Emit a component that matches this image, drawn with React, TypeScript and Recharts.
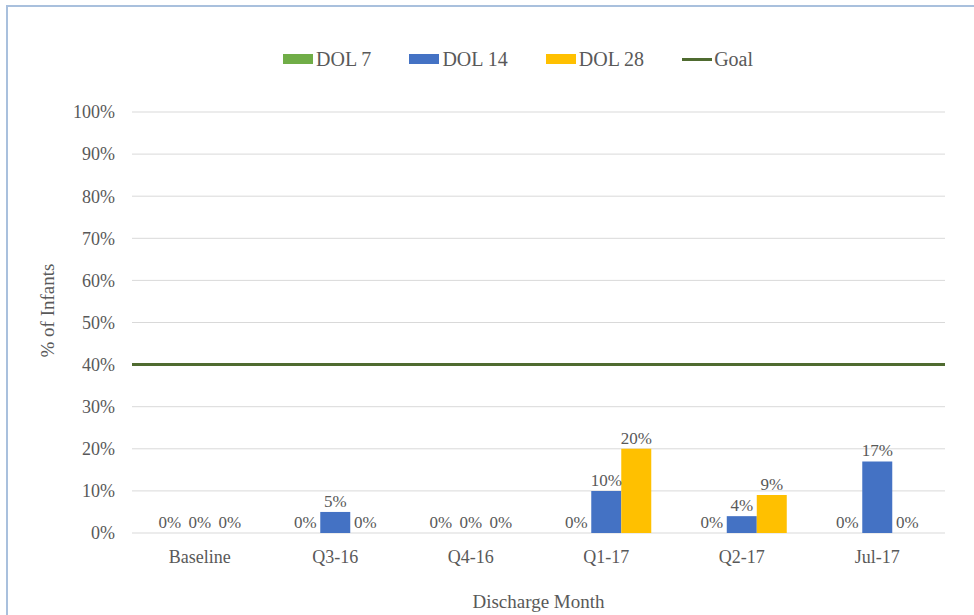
import React from 'react';
import { ComposedChart, Bar, XAxis, YAxis, CartesianGrid, ReferenceLine, LabelList, Rectangle } from 'recharts';

const categories = ['Baseline', 'Q3-16', 'Q4-16', 'Q1-17', 'Q2-17', 'Jul-17'];
const dol7 = [0, 0, 0, 0, 0, 0];
const dol14 = [0, 5, 0, 10, 4, 17];
const dol28 = [0, 0, 0, 20, 9, 0];
const goal = 40;
const yTicks = [0, 10, 20, 30, 40, 50, 60, 70, 80, 90, 100];

const data = categories.map((c, i) => ({ name: c, dol7: dol7[i], dol14: dol14[i], dol28: dol28[i] }));

const FONT = '"Liberation Serif", "DejaVu Serif", serif';
const TXT = '#595959';

const legendItems = [
  { label: 'DOL 7', color: '#70ad47', type: 'rect' },
  { label: 'DOL 14', color: '#4472c4', type: 'rect' },
  { label: 'DOL 28', color: '#ffc000', type: 'rect' },
  { label: 'Goal', color: '#4f6b30', type: 'line' },
];

const BarShape = (props: any) => {
  const { value, height } = props;
  const v = Array.isArray(value) ? value[1] - value[0] : value;
  if (!v || Math.abs(height) < 1) return <g />;
  return <Rectangle {...props} />;
};

export default function App() {
  const fmt = (v: any) => `${v}%`;
  const labelProps = { position: 'top' as const, offset: 5, formatter: fmt, fill: TXT, fontSize: 17, fontFamily: FONT };
  return (
    <div style={{ position: 'absolute', left: 0, top: 0, width: 974, height: 615, background: '#fff', overflow: 'hidden', fontFamily: FONT }}>
      <div style={{ position: 'absolute', left: 6, top: 5, width: 1000, height: 700, borderLeft: '2px solid #a9c0dd', borderTop: '2px solid #a9c0dd' }} />
      <div style={{ position: 'absolute', left: 283, top: 47, display: 'flex', alignItems: 'center', gap: 38, fontSize: 20, color: TXT, fontFamily: FONT }}>
        {legendItems.map((it) => (
          <div key={it.label} style={{ display: 'flex', alignItems: 'center' }}>
            {it.type === 'rect' ? (
              <div style={{ width: 30, height: 10, background: it.color, marginRight: 3 }} />
            ) : (
              <div style={{ width: 30, height: 3, background: it.color, marginRight: 2 }} />
            )}
            <span style={{ fontFamily: FONT, lineHeight: '24px' }}>{it.label}</span>
          </div>
        ))}
      </div>
      <div style={{ position: 'absolute', left: 0, top: 0 }}>
        <ComposedChart width={974} height={615} data={data} margin={{ top: 112, right: 29, bottom: 7, left: 30 }} barGap={0} barCategoryGap="16.8%">
          <CartesianGrid vertical={false} stroke="#d9d9d9" />
          <XAxis dataKey="name" axisLine={false} tickLine={false} tickMargin={11} height={75}
            tick={{ fill: TXT, fontSize: 18, fontFamily: FONT }}
            label={{ value: 'Discharge Month', position: 'insideBottom', offset: 0, fill: TXT, fontSize: 19, fontFamily: FONT, style: { fontFamily: FONT } }} />
          <YAxis domain={[0, 100]} ticks={yTicks} tickFormatter={fmt} axisLine={false} tickLine={false} tickMargin={11} width={102}
            tick={{ fill: TXT, fontSize: 18, fontFamily: FONT }}
            label={{ value: '% of Infants', angle: -90, position: 'insideLeft', offset: 17, dy: -12, fill: TXT, fontSize: 19, fontFamily: FONT, style: { textAnchor: 'middle', fontFamily: FONT } }} />
          <Bar dataKey="dol7" fill="#70ad47" isAnimationActive={false} minPointSize={0.01} shape={BarShape}>
            <LabelList dataKey="dol7" {...labelProps} />
          </Bar>
          <Bar dataKey="dol14" fill="#4472c4" isAnimationActive={false} minPointSize={0.01} shape={BarShape}>
            <LabelList dataKey="dol14" {...labelProps} />
          </Bar>
          <Bar dataKey="dol28" fill="#ffc000" isAnimationActive={false} minPointSize={0.01} shape={BarShape}>
            <LabelList dataKey="dol28" {...labelProps} />
          </Bar>
          <ReferenceLine y={goal} stroke="#4f6b30" strokeWidth={3} />
        </ComposedChart>
      </div>
    </div>
  );
}
